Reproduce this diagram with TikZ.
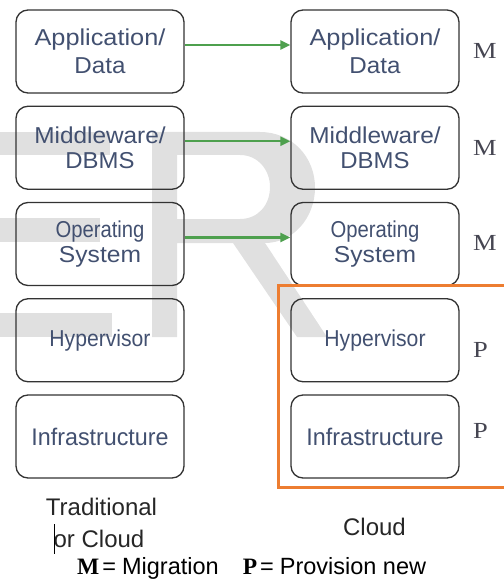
\documentclass[tikz,border=0pt]{standalone}
\usepackage{fontspec}
\setmainfont{Liberation Sans}
\newfontfamily\tnr{Liberation Serif}
\usetikzlibrary{arrows.meta,calc}
\definecolor{boxtext}{RGB}{66,80,112}
\definecolor{migrgreen}{RGB}{78,160,78}
\definecolor{provorange}{RGB}{237,125,49}
\definecolor{wmgrey}{RGB}{224,224,224}
\definecolor{tagcol}{RGB}{70,70,82}
% horizontal stretch of one line of text
\newcommand{\xstr}[2]{\scalebox{#1}[1]{#2}}

\begin{document}
\begin{tikzpicture}[x=1pt,y=-1pt,
  layer/.style={draw=black!80, line width=1.3pt, rounded corners=12pt,
    minimum width=168pt, minimum height=83pt, inner sep=0pt, align=center,
    text=boxtext, font=\fontsize{23}{25}\selectfont},
  migr/.style={draw=migrgreen, line width=2.2pt, -{Triangle[length=10pt,width=9pt]}},
  tag/.style={anchor=west, inner sep=0pt, text=tagcol, font=\tnr\fontsize{23}{23}\selectfont},
  caption/.style={inner sep=0pt, anchor=base, text=black!85, font=\fontsize{24}{30}\selectfont},
  wmark/.style={fill=wmgrey}]
\useasboundingbox (0,0) rectangle (503,580);

% faint watermark lettering behind the diagram
\fill[wmark] (0,132) rectangle (110,155);
\fill[wmark] (0,218) rectangle (100,242);
\fill[wmark] (0,313) rectangle (112,337);
\fill[wmark, even odd rule]
  (152,132) -- (260,132)
  .. controls (292,132) and (315,157) .. (315,187.5)
  .. controls (315,218) and (293,243) .. (265,243)
  -- (327,337) -- (297,337) -- (233,243) -- (177,243) -- (177,337) -- (152,337) -- cycle
  (177,155) -- (240,155)
  .. controls (258,155) and (270,170) .. (270,187)
  .. controls (270,205) and (258,219) .. (240,219)
  -- (177,219) -- cycle;

% traditional stack
\node[layer] (L1) at (100,51.5)  {\xstr{1.1}{Application/}\\[3pt]\xstr{1.05}{Data}};
\node[layer] (L2) at (100,147.75) {\xstr{1.06}{Middleware/}\\\xstr{1.04}{DBMS}};
\node[layer] (L3) at (100,244)   {\xstr{0.88}{Operating}\\\xstr{1.07}{System}};
\node[layer] (L4) at (100,340.25) {\xstr{0.92}{Hypervisor}};
\node[layer, font=\fontsize{24}{26}\selectfont] (L5) at (100,436.5) {\xstr{0.97}{Infrastructure}};

% cloud stack
\node[layer] (R1) at (375,51.5)  {\xstr{1.1}{Application/}\\[3pt]\xstr{1.05}{Data}};
\node[layer] (R2) at (375,147.75) {\xstr{1.06}{Middleware/}\\\xstr{1.04}{DBMS}};
\node[layer] (R3) at (375,244)   {\xstr{0.88}{Operating}\\\xstr{1.07}{System}};
\node[layer] (R4) at (375,340.25) {\xstr{0.92}{Hypervisor}};
\node[layer, font=\fontsize{24}{26}\selectfont] (R5) at (375,436.5) {\xstr{0.97}{Infrastructure}};

% provisioned layers
\draw[provorange, line width=3pt] (510,285) -- (278,285) -- (278,487) -- (510,487);

% migration arrows
\foreach \i in {1,2,3}
  \draw[migr] ([yshift=6.5pt]L\i.east) -- ([yshift=6.5pt]L\i.east -| R\i.west);

% per-layer tags
\node[tag] (t1) at (473,50.5)  {\xstr{1.15}{M}};
\node[tag] (t2) at (473,147.5) {\xstr{1.15}{M}};
\node[tag] (t3) at (473,242.5) {\xstr{1.15}{M}};
\node[tag] (t4) at (473,350)   {\xstr{1.15}{P}};
\node[tag] (t5) at (473,431)   {\xstr{1.15}{P}};

% column captions
\node[caption] (trad1) at (101.5,515) {Traditional};
\node[caption] (trad2) at (99,547)   {or Cloud};
\draw[black, line width=1.8pt] (54.5,524) -- (54.5,554);
\node[caption] (cloud) at (374.5,535) {Cloud};

% legend
\node[inner sep=0pt, anchor=base west, font=\fontsize{23.5}{28}\selectfont] (legend) at (77,574)
  {{\tnr\bfseries M}\hspace{3pt}=\hspace{6pt}Migration\hspace{24pt}{\tnr\bfseries P}\hspace{3pt}=\hspace{6pt}Provision new};
\end{tikzpicture}
\end{document}
